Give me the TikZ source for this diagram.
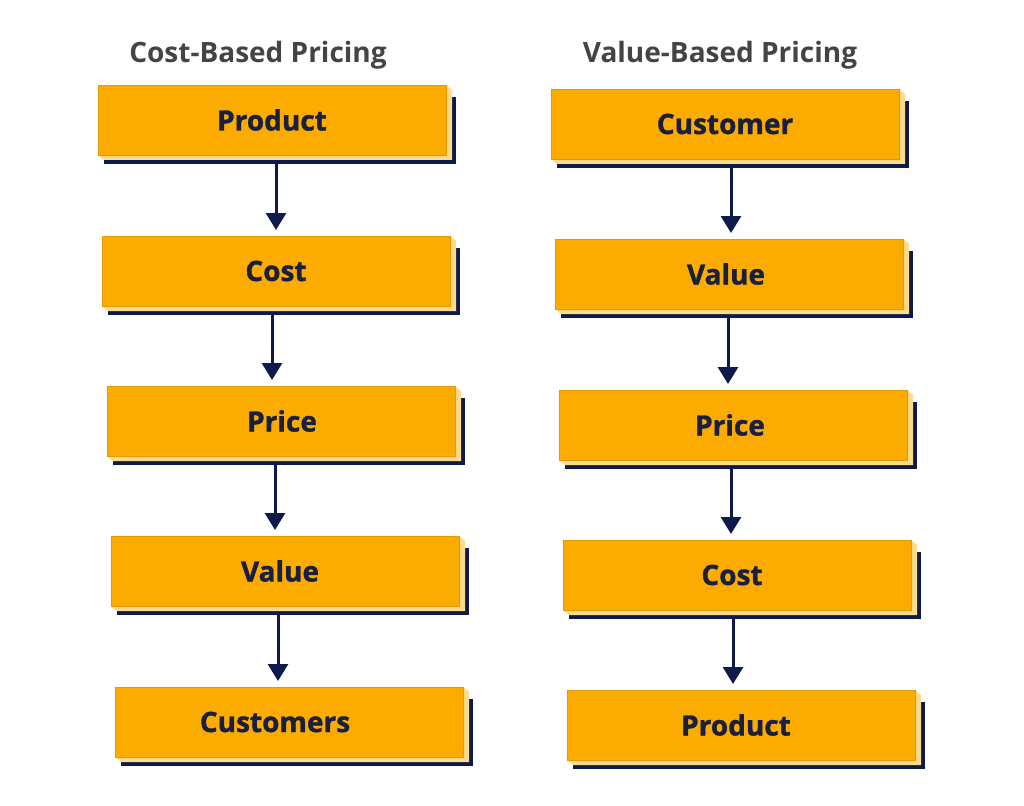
\documentclass[tikz,border=0pt]{standalone}
\usepackage{fontspec}
\setmainfont{Open Sans}
\newfontfamily\heavyfont{Open Sans}[BoldFeatures={FakeBold=1.2}]
\usetikzlibrary{calc,arrows.meta,backgrounds}
\definecolor{boxorange}{HTML}{FCAC00}
\definecolor{boxedge}{HTML}{E39B00}
\definecolor{sidelight}{HTML}{FFD98C}
\definecolor{navy}{HTML}{0F1A4C}
\definecolor{labelnavy}{HTML}{1A1F3E}
\definecolor{titlegray}{HTML}{444444}
\tikzset{
  face/.style={rectangle, fill=boxorange, draw=boxedge, line width=0.8pt,
    minimum width=348pt, minimum height=70pt, inner sep=0pt, outer sep=0pt,
    anchor=north west, text=labelnavy,
    font=\heavyfont\fontsize{28}{32}\selectfont\bfseries},
  coltitle/.style={text=titlegray, font=\fontsize{28}{32}\selectfont\bfseries, inner sep=0pt},
  flow/.style={draw=navy, line width=3pt, -{Triangle[width=20pt,length=17pt]}}
}
% name, x, y, text, horizontal text offset
\newcommand\pbox[5]{%
  \node[face] (#1) at (#2,#3) {\hspace*{\dimexpr 2\dimexpr #5pt\relax\relax}#4};
  \begin{pgfonlayer}{background}
    \fill[navy] ($(#1.north west)+(6,12)$) rectangle ($(#1.south east)+(10,9)$);
    \fill[sidelight] (#1.north east) -- ($(#1.north east)+(6,5)$) --
      ($(#1.south east)+(6,5)$) -- ($(#1.south west)+(6,5)$) -- (#1.south west) -- cycle;
  \end{pgfonlayer}
}
\begin{document}
\begin{tikzpicture}[x=1pt,y=-1pt]
\useasboundingbox (0,0) rectangle (1024,805);
\begin{pgfonlayer}{background}
\fill[white] (0,0) rectangle (1024,805);
\end{pgfonlayer}
\node[coltitle] (t1) at (258,55) {Cost-Based Pricing};
\node[coltitle] (t2) at (720,55) {Value-Based Pricing};
% left column
\pbox{l1}{98}{85}{Product}{0}
\pbox{l2}{102}{236}{Cost}{0}
\pbox{l3}{107}{386}{Price}{1}
\pbox{l4}{111}{536}{Value}{-5}
\pbox{l5}{115}{687}{Customers}{-14}
% right column
\pbox{r1}{551}{89}{Customer}{0}
\pbox{r2}{555}{239}{Value}{-3}
\pbox{r3}{559}{390}{Price}{-3}
\pbox{r4}{563}{540}{Cost}{-5}
\pbox{r5}{567}{690}{Product}{-5}
% arrows
\draw[flow] ($(l1.south west)+(178,8)$) -- ($(l2.north west)+(174,-6)$);
\draw[flow] ($(l2.south west)+(170,8)$) -- ($(l3.north west)+(165,-6)$);
\draw[flow] ($(l3.south west)+(168,8)$) -- ($(l4.north west)+(164,-6)$);
\draw[flow] ($(l4.south west)+(167,8)$) -- ($(l5.north west)+(163,-6)$);
\draw[flow] ($(r1.south west)+(180,8)$) -- ($(r2.north west)+(176,-6)$);
\draw[flow] ($(r2.south west)+(173,8)$) -- ($(r3.north west)+(169,-6)$);
\draw[flow] ($(r3.south west)+(172,8)$) -- ($(r4.north west)+(168,-6)$);
\draw[flow] ($(r4.south west)+(170,8)$) -- ($(r5.north west)+(166,-6)$);
\end{tikzpicture}
\end{document}
